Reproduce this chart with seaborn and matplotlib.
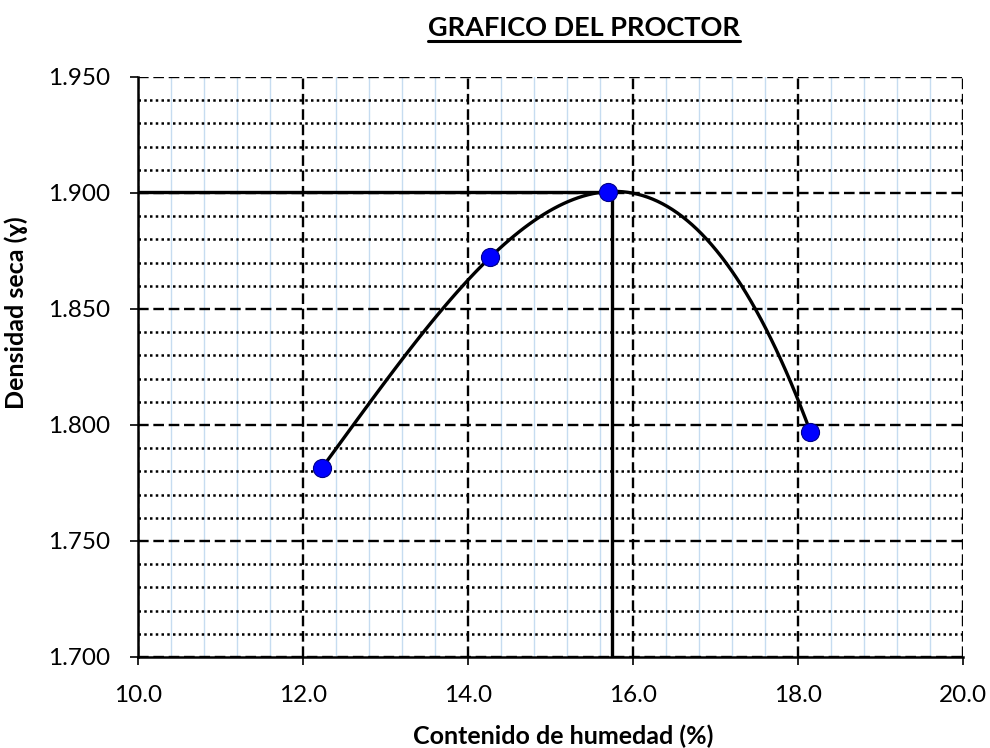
import numpy as np
import pandas as pd
import matplotlib
matplotlib.use("Agg")
import matplotlib.pyplot as plt
from matplotlib.ticker import MultipleLocator, FormatStrFormatter
import seaborn as sns

# datos del ensayo proctor
humedad = [12.23, 14.27, 15.70, 18.15]
densidad = [1.7815, 1.8723, 1.9006, 1.7971]
hum_optima = 15.75
dens_maxima = 1.9006

df = pd.DataFrame({"humedad": humedad, "densidad": densidad})

sns.set_theme(style="white")
plt.rcParams["font.family"] = ["Lato", "DejaVu Sans"]
plt.rcParams["text.color"] = "black"
plt.rcParams["axes.labelcolor"] = "black"
plt.rcParams["xtick.color"] = "black"
plt.rcParams["ytick.color"] = "black"

fig = plt.figure(figsize=(9.9, 7.48), dpi=100)
ax = fig.add_axes([0.1394, 0.1217, 0.8333, 0.7754])

# curva de ajuste (polinomio de 3er grado)
sns.regplot(data=df, x="humedad", y="densidad", order=3, ci=None, truncate=True,
            scatter=False, color="black", line_kws={"lw": 2.4, "zorder": 4}, ax=ax)

# lineas de densidad maxima / humedad optima
ax.hlines(dens_maxima, 10.0, hum_optima, color="black", lw=2.4, zorder=4)
ax.vlines(hum_optima, 1.700, dens_maxima, color="black", lw=2.4, zorder=4)

sns.scatterplot(data=df, x="humedad", y="densidad", s=170, color="#0000ff",
                edgecolor="#00008b", linewidth=0.8, zorder=5, ax=ax)

ax.set_xlim(10.0, 20.0)
ax.set_ylim(1.700, 1.950)
ax.xaxis.set_major_locator(MultipleLocator(2.0))
ax.xaxis.set_minor_locator(MultipleLocator(0.4))
ax.yaxis.set_major_locator(MultipleLocator(0.05))
ax.yaxis.set_minor_locator(MultipleLocator(0.01))
ax.xaxis.set_major_formatter(FormatStrFormatter("%.1f"))
ax.yaxis.set_major_formatter(FormatStrFormatter("%.3f"))

ax.grid(which="minor", axis="x", color="#c6dcf0", lw=1.0, ls="-", zorder=0)
ax.grid(which="minor", axis="y", color="black", lw=1.8, ls=(0, (1, 1.3)), zorder=1)
ax.grid(which="major", axis="both", color="black", lw=1.7, ls=(0, (4.5, 2)), zorder=2)
ax.set_axisbelow(True)

for s in ["top", "right"]:
    ax.spines[s].set_visible(False)
for s in ["left", "bottom"]:
    ax.spines[s].set_color("black")
    ax.spines[s].set_linewidth(1.8)
    ax.spines[s].set_zorder(3)

ax.tick_params(which="major", direction="out", length=6, width=1.2, color="black",
               labelsize=17.5, pad=14, left=True, bottom=True)
ax.tick_params(which="minor", length=0)

ax.set_xlabel("Contenido de humedad (%)", fontsize=18, fontweight="bold")
ax.set_ylabel("Densidad seca (ɣ)", fontsize=18, fontweight="bold")
ax.xaxis.set_label_coords(0.515, -0.117)
ax.yaxis.set_label_coords(-0.133, 0.593)

# titulo subrayado
title = fig.text(0.590, 0.962, "GRAFICO DEL PROCTOR", ha="center", va="center",
                 fontsize=19.5, fontweight="bold")
fig.canvas.draw()
bb = title.get_window_extent().transformed(fig.transFigure.inverted())
fig.add_artist(plt.Line2D([bb.x0, bb.x1], [bb.y0 - 0.001, bb.y0 - 0.001],
                          transform=fig.transFigure, color="black", lw=2.2))

fig.savefig("out.png", dpi=100)
